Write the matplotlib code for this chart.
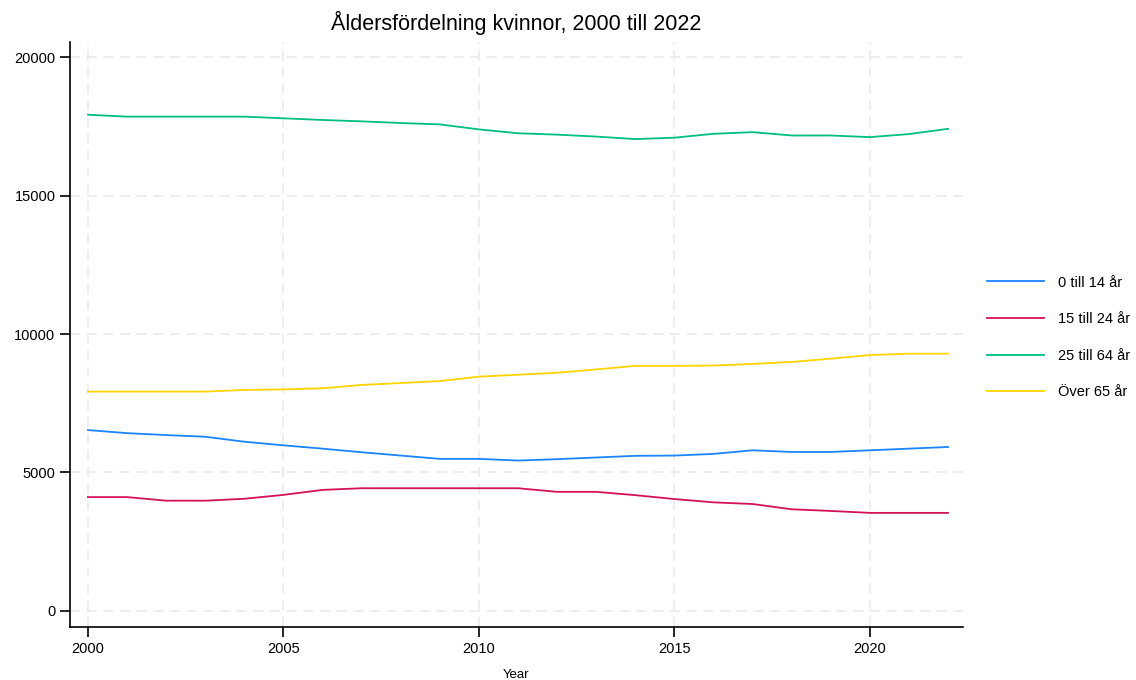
import matplotlib
matplotlib.use("Agg")
import matplotlib.pyplot as plt

plt.rcParams['font.family'] = ['Liberation Sans', 'DejaVu Sans']

years = list(range(2000, 2023))

age_0_14 = [6530, 6420, 6350, 6290, 6110, 5980, 5860, 5730, 5610, 5490, 5490, 5430,
            5480, 5540, 5600, 5610, 5670, 5800, 5740, 5740, 5800, 5860, 5920]
age_15_24 = [4110, 4110, 3980, 3980, 4050, 4190, 4370, 4430, 4430, 4430, 4430, 4430,
             4300, 4300, 4180, 4040, 3920, 3860, 3670, 3610, 3540, 3540, 3540]
age_25_64 = [17920, 17850, 17850, 17850, 17850, 17790, 17730, 17680, 17620, 17570, 17390, 17250,
             17200, 17130, 17040, 17090, 17230, 17290, 17170, 17170, 17110, 17220, 17410]
age_65 = [7920, 7920, 7920, 7920, 7980, 8000, 8040, 8160, 8230, 8300, 8460, 8530,
          8600, 8720, 8850, 8850, 8860, 8920, 8990, 9110, 9240, 9290, 9290]

labels = ["0 till 14 år", "15 till 24 år", "25 till 64 år", "Över 65 år"]
colors = ["#1a85ff", "#d41159", "#00bf7f", "#ffd400"]

fig = plt.figure(figsize=(11.36, 6.8), dpi=100)
ax = fig.add_axes([0.0616, 0.078, 0.786, 0.86])

for vals, lab, col in zip([age_0_14, age_15_24, age_25_64, age_65], labels, colors):
    ax.plot(years, vals, color=col, linewidth=1.3, label=lab)

ax.set_xlim(1999.54, 2022.38)
ax.set_ylim(-580, 20540)
ax.set_xticks([2000, 2005, 2010, 2015, 2020])
ax.set_yticks([0, 5000, 10000, 15000, 20000])
ax.grid(True, color="#ebebeb", linestyle=(0, (6, 4)), linewidth=1.2)
ax.set_axisbelow(True)
for s in ["top", "right"]:
    ax.spines[s].set_visible(False)
ax.tick_params(direction="out", length=7, width=1.2, labelsize=10.5, colors="black")
ax.spines["left"].set_linewidth(1.2)
ax.spines["bottom"].set_linewidth(1.2)
ax.set_xlabel("Year", fontsize=9.5, labelpad=10)
ax.set_title("Åldersfördelning kvinnor, 2000 till 2022", fontsize=15.5, pad=9)

ax.legend(loc="center left", bbox_to_anchor=(1.012, 0.495), frameon=False,
          fontsize=10.5, labelspacing=1.55, handlelength=3.9, handletextpad=1.0)

fig.savefig("out.png", dpi=100)
